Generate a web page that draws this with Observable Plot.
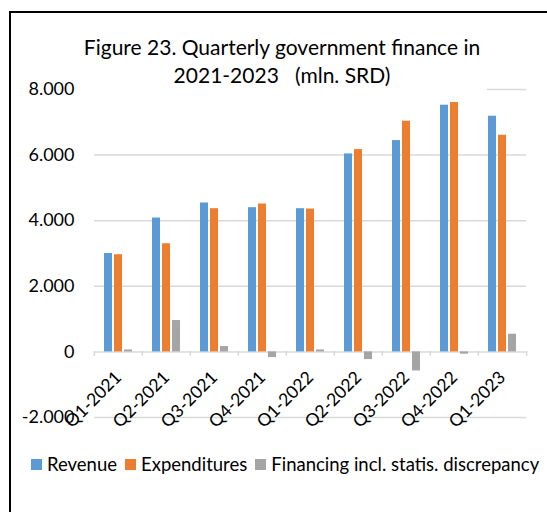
<!DOCTYPE html>
<html>
<head>
<meta charset="utf-8">
<script src="https://cdn.jsdelivr.net/npm/d3@7"></script>
<script src="https://cdn.jsdelivr.net/npm/@observablehq/plot@0.6"></script>
<style>
  body { margin: 0; background: #fff; }
  #wrap { position: relative; width: 547px; height: 512px; overflow: hidden; font-family: Lato, sans-serif; color: #000; background: #fff; }
  #chart { position: absolute; left: 0; top: 0; }
  #title { position: absolute; left: 77px; top: 33px; width: 410px; padding-bottom: 5px; background: #fff; text-align: center; font-size: 21px; line-height: 28px; }
  #frame { position: absolute; left: 9px; top: 11px; width: 700px; height: 700px; border-top: 2px solid #000; border-left: 2px solid #000; box-sizing: border-box; pointer-events: none; }
  #legend { position: absolute; left: 31px; top: 452px; display: flex; align-items: center; font-size: 18.5px; line-height: 24px; white-space: nowrap; }
  #legend .item { display: flex; align-items: center; margin-right: 8px; }
  #legend .sw { width: 11px; height: 11px; margin-right: 5px; }
</style>
</head>
<body>
<div id="wrap">
  <div id="chart"></div>
  <div id="title">Figure 23. Quarterly government finance in<br>2021-2023&nbsp;&nbsp;&nbsp;(mln. SRD)</div>
  <div id="frame"></div>
  <div id="legend"></div>
</div>
<script>
const quarters = ["Q1-2021", "Q2-2021", "Q3-2021", "Q4-2021", "Q1-2022", "Q2-2022", "Q3-2022", "Q4-2022", "Q1-2023"];
const revenue = [3001, 4082, 4540, 4397, 4366, 6036, 6443, 7521, 7186];
const expenditures = [2962, 3298, 4366, 4509, 4355, 6168, 7033, 7603, 6605];
const financing = [60, 956, 163, -173, 60, -234, -580, -70, 540];
const seriesNames = ["Revenue", "Expenditures", "Financing incl. statis. discrepancy"];
const seriesColors = ["#5B9BD5", "#ED7D31", "#A5A5A5"];
const yTicks = [-2000, 0, 2000, 4000, 6000, 8000];

const seriesValues = [revenue, expenditures, financing];
const rows = quarters.flatMap((q, i) => seriesNames.map((s, k) => ({quarter: q, series: s, value: seriesValues[k][i]})));

const fmt = d => (d < 0 ? "-" : "") + d3.format(",")(Math.abs(d)).replace(/,/g, ".");

const W = 547, H = 512, mL = 92, mR = 20, mT = 89, mB = 95;
const step = (W - mL - mR) / quarters.length;

const chart = Plot.plot({
  width: W, height: H,
  marginTop: mT, marginBottom: mB, marginLeft: mL, marginRight: mR,
  style: { fontFamily: "Lato, sans-serif", fontSize: "18px", color: "#000", background: "transparent", overflow: "visible" },
  fx: { domain: quarters, padding: 0, label: null, axis: null },
  x: { domain: seriesNames, paddingInner: 0.17, paddingOuter: 0.95, axis: null },
  y: { domain: [-2000, 8000], label: null, axis: null },
  color: { domain: seriesNames, range: seriesColors },
  marks: [
    Plot.ruleY(yTicks, { stroke: "#D9D9D9", strokeWidth: 1.5 }),
    Plot.barY(rows, { fx: "quarter", x: "series", y: "value", fill: "series" }),
    Plot.axisY({ ticks: yTicks, tickSize: 0, tickPadding: 20, tickFormat: fmt, fontSize: 18, label: null }),
    Plot.axisFx({ anchor: "bottom", tickSize: 5, text: null, dx: -step / 2, dy: -66, stroke: "#D9D9D9", strokeWidth: 1.5, label: null }),
    Plot.axisFx({ anchor: "bottom", ticks: [quarters[quarters.length - 1]], tickSize: 5, text: null, dx: step / 2, dy: -66, stroke: "#D9D9D9", strokeWidth: 1.5, label: null }),
    Plot.axisFx({ anchor: "bottom", tickSize: 0, tickPadding: 0, tickRotate: -45, textAnchor: "end", lineAnchor: "middle", dy: -43, fontSize: 17.5, label: null })
  ]
});
document.getElementById("chart").appendChild(chart);

const legend = document.getElementById("legend");
seriesNames.forEach((s, k) => {
  const item = document.createElement("div");
  item.className = "item";
  const sw = document.createElement("span");
  sw.className = "sw";
  sw.style.background = seriesColors[k];
  const label = document.createElement("span");
  label.textContent = s;
  item.appendChild(sw);
  item.appendChild(label);
  legend.appendChild(item);
});
</script>
</body>
</html>
